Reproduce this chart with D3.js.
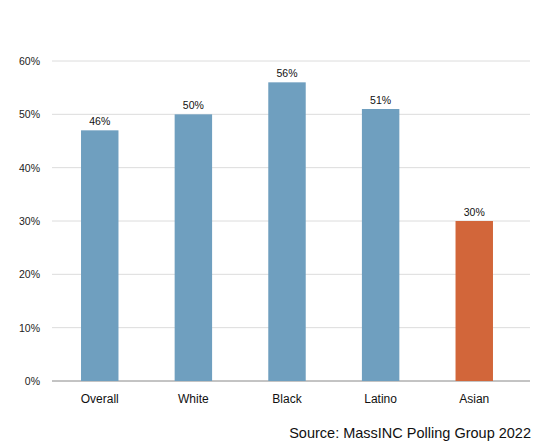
<!DOCTYPE html>
<html>
<head>
<meta charset="utf-8">
<script src="https://cdn.jsdelivr.net/npm/d3@7"></script>
<style>
  body { margin: 0; background: #fff; }
  text { font-family: "Liberation Sans", Arial, sans-serif; }
</style>
</head>
<body>
<svg id="chart" width="557" height="444"></svg>
<script>
const categories = ["Overall", "White", "Black", "Latino", "Asian"];
const values = [47, 50, 56, 51, 30];
const valueLabels = ["46%", "50%", "56%", "51%", "30%"];
const barColors = ["#6f9fbf", "#6f9fbf", "#6f9fbf", "#6f9fbf", "#d2663a"];
const yTicks = [0, 10, 20, 30, 40, 50, 60];
const source = "Source: MassINC Polling Group 2022";

(function () {
  const svg = d3.select("#chart");
  const left = 52, right = 530, top = 61, bottom = 381;

  const x = d3.scaleBand()
    .domain(categories)
    .range([left, 522])
    .paddingInner(0.6)
    .paddingOuter(0.31);

  const y = d3.scaleLinear().domain([0, 60]).range([bottom, top]);

  // grid
  svg.append("g")
    .selectAll(null)
    .data(yTicks)
    .enter()
    .append("line")
    .attr("x1", left)
    .attr("x2", right)
    .attr("y1", (d) => y(d))
    .attr("y2", (d) => y(d))
    .attr("stroke", (d) => (d === 0 ? "#888" : "#dcdcdc"))
    .style("stroke-width", "1px");

  // y labels
  svg.append("g")
    .selectAll(null)
    .data(yTicks)
    .enter()
    .append("text")
    .text((d) => `${d}%`)
    .attr("x", 40)
    .attr("y", (d) => y(d) + 4)
    .attr("text-anchor", "end")
    .style("font-size", "10.5px")
    .style("fill", "#222");

  const data = categories.map((c, i) => ({ c, v: values[i], l: valueLabels[i], col: barColors[i] }));

  svg.append("g")
    .selectAll(null)
    .data(data)
    .enter()
    .append("rect")
    .attr("x", (d) => x(d.c))
    .attr("y", (d) => y(d.v))
    .attr("width", x.bandwidth())
    .attr("height", (d) => y(0) - y(d.v))
    .attr("fill", (d) => d.col);

  svg.append("g")
    .selectAll(null)
    .data(data)
    .enter()
    .append("text")
    .text((d) => d.l)
    .attr("x", (d) => x(d.c) + x.bandwidth() / 2)
    .attr("y", (d) => y(d.v) - 5)
    .attr("text-anchor", "middle")
    .style("font-size", "10.5px")
    .style("fill", "#111");

  svg.append("g")
    .selectAll(null)
    .data(categories)
    .enter()
    .append("text")
    .text((d) => d)
    .attr("x", (d) => x(d) + x.bandwidth() / 2)
    .attr("y", 403)
    .attr("text-anchor", "middle")
    .style("font-size", "12px")
    .style("fill", "#111");

  svg.append("text")
    .text(source)
    .attr("x", 531)
    .attr("y", 438)
    .attr("text-anchor", "end")
    .style("font-size", "14.5px")
    .style("fill", "#111");
})();
</script>
</body>
</html>
